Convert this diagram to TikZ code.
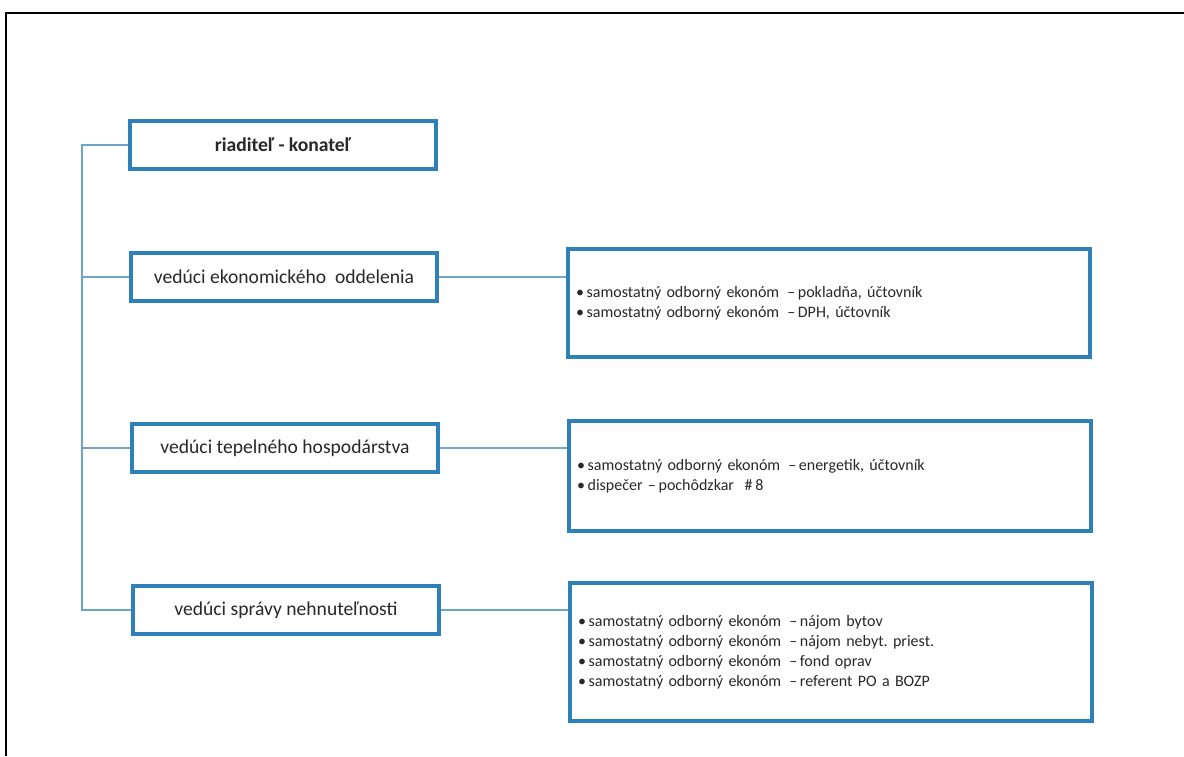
\documentclass[tikz,border=0pt]{standalone}
\usepackage{fontspec}
\setmainfont{Carlito}
\definecolor{boxblue}{RGB}{46,128,185}
\definecolor{lineblue}{RGB}{110,165,205}
\definecolor{inktext}{RGB}{40,40,40}
\frenchspacing
\begin{document}
\begin{tikzpicture}[x=0.5pt, y=-0.5pt,
  head/.style={draw=boxblue, line width=2pt, fill=white, text=inktext, minimum width=153pt, minimum height=24pt, inner sep=0pt, font=\fontsize{9.8}{11}\selectfont},
  duty/.style={draw=boxblue, line width=2pt, fill=white, text=inktext, text width=253pt, align=left, inner xsep=4pt, inner ysep=0pt, font=\fontsize{8}{10}\selectfont},
  conn/.style={lineblue, line width=0.6pt}]
  \useasboundingbox (0,0) rectangle (1184,756);
  \draw[line width=0.8pt] (6,756) -- (6,13) -- (1184,13);
  \node[head] (boss) at (283,145) {\textbf{riaditeľ - konateľ}};
  \node[head] (ek) at (284,277) {vedúci ekonomického \ oddelenia};
  \node[head] (tep) at (285,448) {vedúci tepelného hospodárstva};
  \node[head] (spr) at (286,610) {vedúci správy nehnuteľnosti};
  \node[duty, minimum height=54pt] (ekR) at (829,303) {%
    •\,samostatný odborný ekonóm \,–\,pokladňa, účtovník\\
    •\,samostatný odborný ekonóm \,–\,DPH, účtovník};
  \node[duty, minimum height=55pt] (tepR) at (830,476) {%
    •\,samostatný odborný ekonóm \,–\,energetik, účtovník\\
    •\,dispečer –\,pochôdzkar \ \#\,8};
  \node[duty, minimum height=69pt] (sprR) at (831,652) {%
    •\,samostatný odborný ekonóm \,–\,nájom bytov\\
    •\,samostatný odborný ekonóm \,–\,nájom nebyt. priest.\\
    •\,samostatný odborný ekonóm \,–\,fond oprav\\
    •\,samostatný odborný ekonóm \,–\,referent PO a BOZP\\[4pt]};
  \coordinate (trunk) at (82,0);
  \draw[conn] (boss.west) -- (boss.west -| trunk) |- (spr.west);
  \foreach \n in {ek,tep}
    \draw[conn] (\n.west) -- (\n.west -| trunk);
  \foreach \n in {ek,tep,spr}
    \draw[conn] (\n.east) -- (\n.east -| \n R.west);
\end{tikzpicture}
\end{document}
